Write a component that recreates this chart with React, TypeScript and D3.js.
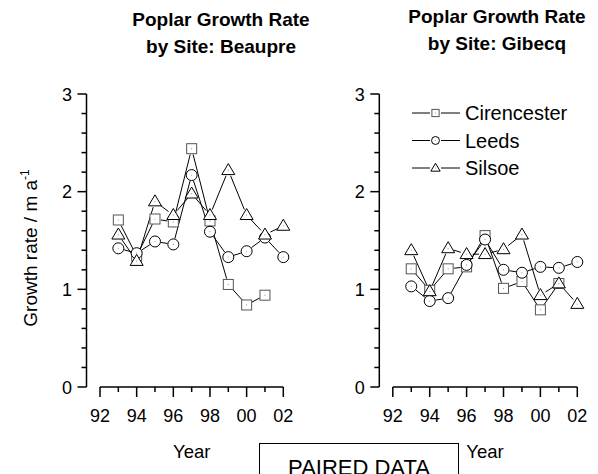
import React from "react";
import * as d3 from "d3";

const years = [1993, 1994, 1995, 1996, 1997, 1998, 1999, 2000, 2001, 2002];
const seriesNames = ["Cirencester", "Leeds", "Silsoe"];
const beaupreCirencester = [1.71, 1.34, 1.72, 1.69, 2.44, 1.7, 1.05, 0.84, 0.94, null];
const beaupreLeeds = [1.42, 1.37, 1.49, 1.46, 2.17, 1.59, 1.33, 1.39, 1.53, 1.33];
const beaupreSilsoe = [1.56, 1.29, 1.9, 1.76, 1.98, 1.76, 2.22, 1.76, 1.56, 1.65];
const gibecqCirencester = [1.21, 0.99, 1.21, 1.23, 1.55, 1.01, 1.08, 0.79, 1.06, null];
const gibecqLeeds = [1.03, 0.88, 0.91, 1.25, 1.51, 1.2, 1.17, 1.23, 1.22, 1.28];
const gibecqSilsoe = [1.4, 0.98, 1.42, 1.36, 1.36, 1.41, 1.56, 0.94, 1.06, 0.85];
const yMajorTicks = [0, 1, 2, 3];
const xMajorTicks = [1992, 1994, 1996, 1998, 2000, 2002];

const FONT = "'Liberation Sans', Arial, Helvetica, sans-serif";
const markerTypes = ["square", "circle", "triangle"];

function Marker({ type, x, y, s }: { type: string; x: number; y: number; s: number }) {
  const stroke = type === "square" ? "#555" : "#000";
  let shape;
  if (type === "square") {
    shape = <rect x={x - s} y={y - s} width={2 * s} height={2 * s} fill="#fff" stroke={stroke} strokeWidth={1} />;
  } else if (type === "circle") {
    shape = <circle cx={x} cy={y} r={s * 1.1} fill="#fff" stroke={stroke} strokeWidth={1} />;
  } else {
    const h = s * 2.2;
    const w = s * 1.3;
    const p = [
      [x, y - h * 0.6],
      [x + w, y + h * 0.4],
      [x - w, y + h * 0.4],
    ];
    shape = <polygon points={p.map((q) => q.join(",")).join(" ")} fill="#fff" stroke={stroke} strokeWidth={1} />;
  }
  return (
    <g>
      {shape}
      <circle cx={x} cy={y} r={0.6} fill="#999" />
    </g>
  );
}

function Panel({
  left,
  axisRight,
  series,
  showLegend,
}: {
  left: number;
  axisRight: number;
  series: (number | null)[][];
  showLegend: boolean;
}) {
  const yAxisX = left;
  const x = d3.scaleLinear().domain([1992, 2002]).range([left + 13.5, axisRight]);
  const y = d3.scaleLinear().domain([0, 3]).range([387, 94]);
  const minorY = d3.range(0, 3.0001, 0.2).filter((v) => Math.abs(v - Math.round(v)) > 1e-6);
  const minorX = d3.range(1993, 2002, 2);
  const gap = 6;
  return (
    <g>
      {/* y axis */}
      <line x1={yAxisX} x2={yAxisX} y1={y(3)} y2={y(0)} stroke="#000" strokeWidth={1.5} />
      {yMajorTicks.map((t) => (
        <g key={"ym" + t}>
          <line x1={yAxisX - 9} x2={yAxisX} y1={y(t)} y2={y(t)} stroke="#000" strokeWidth={1.5} />
          <text x={yAxisX - 14.5} y={y(t) + 6.5} textAnchor="end" fontSize={18} fontFamily={FONT}>
            {t}
          </text>
        </g>
      ))}
      {minorY.map((t) => (
        <line key={"yn" + t} x1={yAxisX - 5} x2={yAxisX} y1={y(t)} y2={y(t)} stroke="#000" strokeWidth={1.5} />
      ))}
      {/* x axis */}
      <line x1={x(1992)} x2={x(2002)} y1={387} y2={387} stroke="#000" strokeWidth={1.5} />
      {xMajorTicks.map((t) => (
        <g key={"xm" + t}>
          <line x1={x(t)} x2={x(t)} y1={387} y2={397} stroke="#000" strokeWidth={1.5} />
          <text x={x(t)} y={422} textAnchor="middle" fontSize={18} fontFamily={FONT}>
            {String(t % 100).padStart(2, "0")}
          </text>
        </g>
      ))}
      {minorX.map((t) => (
        <line key={"xn" + t} x1={x(t)} x2={x(t)} y1={387} y2={392} stroke="#000" strokeWidth={1.5} />
      ))}
      {/* series lines */}
      {series.map((vals, si) => {
        const pts = years
          .map((yr, i) => (vals[i] == null ? null : [x(yr), y(vals[i] as number)]))
          .filter((p) => p != null) as number[][];
        const segs = [];
        for (let i = 0; i < pts.length - 1; i++) {
          const [x1, y1] = pts[i];
          const [x2, y2] = pts[i + 1];
          const dx = x2 - x1;
          const dy = y2 - y1;
          const len = Math.hypot(dx, dy);
          if (len <= 2 * gap) continue;
          const ux = dx / len;
          const uy = dy / len;
          segs.push(
            <line
              key={si + "-" + i}
              x1={x1 + ux * gap}
              y1={y1 + uy * gap}
              x2={x2 - ux * gap}
              y2={y2 - uy * gap}
              stroke="#000"
              strokeWidth={1}
            />
          );
        }
        return <g key={"l" + si}>{segs}</g>;
      })}
      {series.map((vals, si) => (
        <g key={"m" + si}>
          {years.map((yr, i) =>
            vals[i] == null ? null : (
              <Marker key={i} type={markerTypes[si]} x={x(yr)} y={y(vals[i] as number)} s={5} />
            )
          )}
        </g>
      ))}
      {showLegend &&
        seriesNames.map((name, i) => {
          const ly = 113 + i * 27.5;
          return (
            <g key={name}>
              <line x1={412} x2={430} y1={ly} y2={ly} stroke="#000" strokeWidth={1} />
              <line x1={441} x2={460} y1={ly} y2={ly} stroke="#000" strokeWidth={1} />
              <Marker type={markerTypes[i]} x={435.5} y={ly} s={3.6} />
              <text x={465} y={ly + 7} fontSize={20} fontFamily={FONT}>
                {name}
              </text>
            </g>
          );
        })}
    </g>
  );
}

export default function App() {
  return (
    <svg
      width={598}
      height={474}
      viewBox="0 0 598 474"
      style={{ position: "absolute", left: 0, top: 0, background: "#fff" }}
    >
      <rect x={0} y={0} width={598} height={474} fill="#fff" />
      <text x={221} y={26} textAnchor="middle" fontSize={19} fontWeight="bold" fontFamily={FONT}>
        Poplar Growth Rate
      </text>
      <text x={221} y={53} textAnchor="middle" fontSize={19} fontWeight="bold" fontFamily={FONT}>
        by Site: Beaupre
      </text>
      <text x={497} y={23} textAnchor="middle" fontSize={19} fontWeight="bold" fontFamily={FONT}>
        Poplar Growth Rate
      </text>
      <text x={497} y={50} textAnchor="middle" fontSize={19} fontWeight="bold" fontFamily={FONT}>
        by Site: Gibecq
      </text>
      <text transform="translate(37,248) rotate(-90)" textAnchor="middle" fontSize={19} fontFamily={FONT}>
        Growth rate / m a
        <tspan fontSize={12} dy={-8}>
          -1
        </tspan>
      </text>
      <Panel left={86.5} axisRight={283.3} series={[beaupreCirencester, beaupreLeeds, beaupreSilsoe]} showLegend={false} />
      <Panel left={379.3} axisRight={577.3} series={[gibecqCirencester, gibecqLeeds, gibecqSilsoe]} showLegend={true} />
      <text x={191.7} y={458} textAnchor="middle" fontSize={18.5} fontFamily={FONT}>
        Year
      </text>
      <text x={485} y={458} textAnchor="middle" fontSize={18.5} fontFamily={FONT}>
        Year
      </text>
      <rect x={259.5} y={443.5} width={199} height={40} fill="#fff" stroke="#000" strokeWidth={1} />
      <text x={359} y={475} textAnchor="middle" fontSize={22} fontFamily={FONT}>
        PAIRED DATA
      </text>
    </svg>
  );
}
